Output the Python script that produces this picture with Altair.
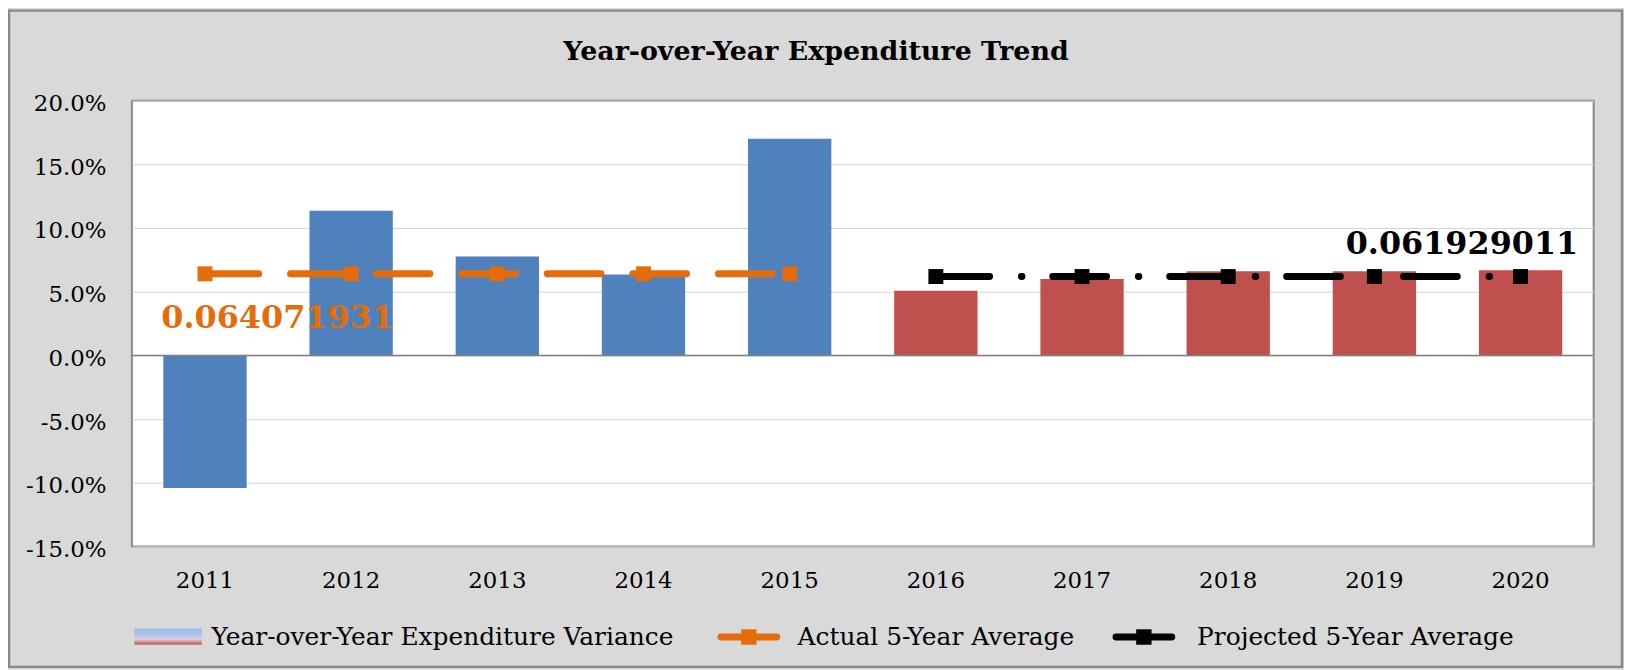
import altair as alt
import pandas as pd

# ---------------- data ----------------
years = ["2011", "2012", "2013", "2014", "2015", "2016", "2017", "2018", "2019", "2020"]
variance = [-0.1041, 0.1135, 0.0776, 0.0636, 0.1702, 0.0507, 0.0599, 0.0661, 0.0661, 0.0668]
period = ["Actual"] * 5 + ["Projected"] * 5
actual_years = years[:5]
actual_avg = [0.064071931] * 5
projected_years = years[5:]
projected_avg = [0.061929011] * 5
y_ticks = [-0.15, -0.10, -0.05, 0.0, 0.05, 0.10, 0.15, 0.20]
title_text = ["Year-over-Year Expenditure Trend"]
legend_labels = ["Year-over-Year Expenditure Variance", "Actual 5-Year Average", "Projected 5-Year Average"]

# ---------------- styles ----------------
BLUE = "#4F81BD"
RED = "#C0504D"
ORANGE = "#E46C0A"
BLACK = "#000000"
BORDER = "#898989"
FONT = "DejaVu Serif"
W, H = 1469, 448

bars_df = pd.DataFrame({"year": years, "variance": variance, "period": period})
act_df = pd.DataFrame({"year": actual_years, "avg": actual_avg})
proj_df = pd.DataFrame({"year": projected_years, "avg": projected_avg})
one = pd.DataFrame({"k": [0]})

x_enc = alt.X(
    "year:N",
    scale=alt.Scale(domain=years, paddingInner=0.43, paddingOuter=0.215),
    axis=alt.Axis(title=None, labelAngle=0, ticks=False, domain=False, grid=False,
                  labelFont=FONT, labelFontSize=23, labelColor="black",
                  labelPadding=34, labelBaseline="middle"),
)
y_scale = alt.Scale(domain=[-0.15, 0.20], nice=False, zero=False)
y_axis = alt.Axis(title=None, values=y_ticks, format=".1%",
                  labelExpr="replace(datum.label, '\u2212', '-')",
                  ticks=False, domain=False, grid=True, gridColor="#D4D4D4", gridWidth=1,
                  labelFont=FONT, labelFontSize=23, labelColor="black",
                  labelPadding=26, labelBaseline="middle", labelOffset=3)

bars = alt.Chart(bars_df).mark_bar().encode(
    x=x_enc,
    y=alt.Y("variance:Q", scale=y_scale, axis=y_axis),
    color=alt.Color("period:N", scale=alt.Scale(domain=["Actual", "Projected"], range=[BLUE, RED]), legend=None),
)

zero_rule = alt.Chart(one).mark_rule(color="#7F7F7F", strokeWidth=1.5).encode(
    y=alt.Y(datum=0, type="quantitative", scale=y_scale)
)

act_line = alt.Chart(act_df).mark_line(color=ORANGE, strokeWidth=7, strokeDash=[54, 32], strokeCap="round").encode(
    x=alt.X("year:N"), y=alt.Y("avg:Q")
)
act_pts = alt.Chart(act_df).mark_square(size=225, color=ORANGE, opacity=1).encode(
    x=alt.X("year:N"), y=alt.Y("avg:Q")
)
proj_line = alt.Chart(proj_df).mark_line(color=BLACK, strokeWidth=7, strokeDash=[54, 32, 0.5, 31], strokeCap="round").encode(
    x=alt.X("year:N"), y=alt.Y("avg:Q")
)
proj_pts = alt.Chart(proj_df).mark_square(size=225, color=BLACK, opacity=1).encode(
    x=alt.X("year:N"), y=alt.Y("avg:Q")
)

act_label = alt.Chart(act_df.iloc[[0]]).mark_text(
    font=FONT, fontWeight="bold", fontSize=32, color=ORANGE, align="center", baseline="middle", dx=73, dy=44
).encode(x=alt.X("year:N"), y=alt.Y("avg:Q"), text=alt.Text("avg:Q", format=".9f"))

proj_label = alt.Chart(proj_df.iloc[[3]]).mark_text(
    font=FONT, fontWeight="bold", fontSize=32, color=BLACK, align="center", baseline="middle", dx=88, dy=-33
).encode(x=alt.X("year:N"), y=alt.Y("avg:Q"), text=alt.Text("avg:Q", format=".9f"))

title = alt.Chart(pd.DataFrame({"t": title_text})).mark_text(
    font=FONT, fontWeight="bold", fontSize=27, color="black", align="center", baseline="middle"
).encode(x=alt.value(687.5), y=alt.value(-49), text="t:N")

# ---------------- legend ----------------
grad = alt.Gradient(
    gradient="linear",
    stops=[
        alt.GradientStop(color="#9DB8E6", offset=0),
        alt.GradientStop(color="#B2C6EC", offset=0.45),
        alt.GradientStop(color="#DAD3E0", offset=0.65),
        alt.GradientStop(color="#D49A9C", offset=0.82),
        alt.GradientStop(color="#BE4B48", offset=1),
    ],
    x1=0, x2=0, y1=0, y2=1,
)
LY = 539
leg_swatch = alt.Chart(one).mark_rect(color=grad).encode(
    x=alt.value(2.5), x2=alt.value(70.5), y=alt.value(530.5), y2=alt.value(546.5)
)
def leg_text(i, x):
    return alt.Chart(pd.DataFrame({"t": [legend_labels[i]]})).mark_text(
        font=FONT, fontSize=25, color="black", align="left", baseline="middle"
    ).encode(x=alt.value(x), y=alt.value(LY + 0.5), text="t:N")

leg_a_line = alt.Chart(one).mark_rule(color=ORANGE, strokeWidth=7, strokeCap="round").encode(
    x=alt.value(592), x2=alt.value(648), y=alt.value(LY)
)
leg_a_pt = alt.Chart(one).mark_square(size=240, color=ORANGE, opacity=1).encode(x=alt.value(620), y=alt.value(LY))
leg_p_line = alt.Chart(one).mark_rule(color=BLACK, strokeWidth=7, strokeCap="round").encode(
    x=alt.value(989), x2=alt.value(1045), y=alt.value(LY)
)
leg_p_pt = alt.Chart(one).mark_square(size=240, color=BLACK, opacity=1).encode(x=alt.value(1017), y=alt.value(LY))

outer = alt.Chart(one).mark_rect(fill="transparent", stroke=BORDER, strokeWidth=2.5).encode(
    x=alt.value(-123.5), x2=alt.value(W + 28.5), y=alt.value(-90.5), y2=alt.value(H + 121)
)

chart = alt.layer(
    bars, zero_rule, act_line, act_pts, proj_line, proj_pts, act_label, proj_label, title,
    leg_swatch, leg_text(0, 80), leg_a_line, leg_a_pt, leg_text(1, 669), leg_p_line, leg_p_pt, leg_text(2, 1070.5),
    outer,
).properties(
    width=W, height=H,
    padding={"left": 124.5, "top": 91.5, "right": 30.5, "bottom": 122},
    autosize=alt.AutoSizeParams(type="none"),
    background="#D9D9D9",
).configure_view(fill="white", stroke=BORDER, strokeWidth=2)

chart.save("out.html", embed_options={"renderer": "svg", "actions": False})
